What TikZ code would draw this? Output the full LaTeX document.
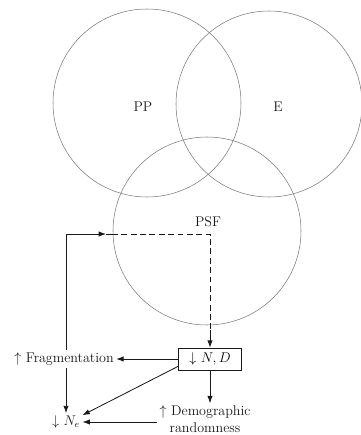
\documentclass[tikz,border=0pt]{standalone}
\usepackage{amsmath,amssymb}
\usetikzlibrary{arrows.meta,positioning,calc}
\definecolor{ring}{RGB}{120,120,120}
\definecolor{ink}{RGB}{25,25,25}
\tikzset{
  zone/.style={draw=ring, line width=0.45pt},
  lab/.style={font=\fontsize{12}{14}\selectfont, text=ink, inner sep=2pt, align=center},
  factor/.style={draw=ink, line width=0.5pt, inner sep=3pt, minimum width=63*0.03cm,
              minimum height=22*0.03cm, font=\fontsize{12}{14}\selectfont},
  flow/.style={-{Latex[length=2.2mm,width=1.6mm]}, ink, line width=0.7pt},
  loop/.style={ink, line width=0.7pt},
}

\begin{document}
\begin{tikzpicture}[x=0.03cm, y=0.03cm]
        \useasboundingbox (0,0) rectangle (361,435);
        % three overlapping sets
        \draw[zone] (147,332) circle (94*0.03cm);
        \draw[zone] (269,331) circle (93*0.03cm);
        \draw[zone] (207,204) circle (94*0.03cm);
        \node[lab] (pp)  at (143,328) {PP};
        \node[lab] (e)   at (278,328) {E};
        \node[lab] (psf) at (208,213) {PSF};
        % factors
        \node[factor] (nd) at (210,76) {$\downarrow$ $N,D$};
        \node[lab] (frag) at (64,76)  {$\uparrow$ Fragmentation};
        \node[lab] (demo) at (205,16) {$\uparrow$ Demographic\\randomness};
        \node[lab] (ne)   at (66,13)  {$\downarrow$ $N_e$};
        % feedback loop into the vortex
        \coordinate (top) at (frag.north -| ne.north);
        \coordinate (corner) at (ne.north |- 0,201);
        \coordinate (mid) at ($(corner)+(40,0)$);
        \coordinate (enter) at ($(corner)+(46,0)$);
        \coordinate (turn) at (corner -| nd.north);
        \coordinate (drop) at ($(nd.north)+(0,18)$);
        \draw[loop] (top) -- (corner);
        \draw[flow] (corner) -- (mid);
        \draw[loop] (mid) -- (enter);
        \draw[loop, dashed, dash pattern=on 5pt off 3pt] (enter) -- (turn) -- (drop);
        \draw[flow] (drop) -- (nd.north);
        % consequences
        \draw[flow] (nd.west) -- (frag.east);
        \draw[flow] (nd.south) -- (nd.south |- demo.north);
        \draw[flow] ($(nd.south west)+(0,4)$) -- ($(ne.north east)+(0,-2)$);
        \draw[flow] (demo.west |- ne.east) -- (ne.east);
        \draw[flow] (frag.south -| ne.north) -- (ne.north);
      \end{tikzpicture}
\end{document}
